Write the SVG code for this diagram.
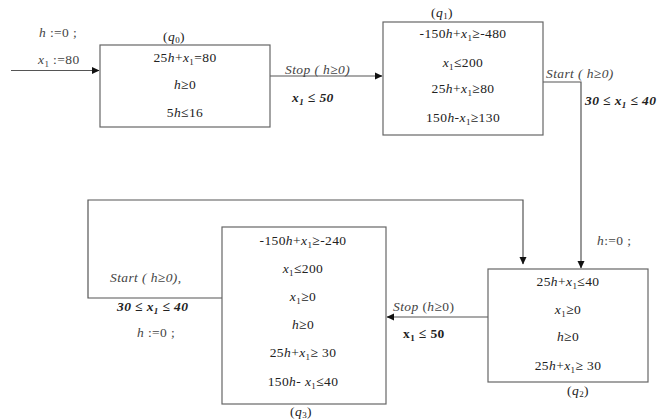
<svg xmlns="http://www.w3.org/2000/svg" width="672" height="420" viewBox="0 0 672 420" font-family="Liberation Serif, Times New Roman, DejaVu Serif, serif">
<defs>
<marker id="ah" markerWidth="8" markerHeight="8" refX="7" refY="4" orient="auto" markerUnits="userSpaceOnUse">
<path d="M0,0.5 L7.5,4 L0,7.5 Z" fill="#111"/>
</marker>
<style>
text{font-family:'Liberation Serif','Times New Roman','DejaVu Serif',serif;font-size:13.5px;fill:#222;letter-spacing:0.4px}
.c{text-anchor:middle}
.i{font-style:italic}
.lbl{fill:#444}
.b{font-weight:bold}
.s{font-size:9px}
.box{fill:#fff;stroke:#666;stroke-width:1.2}
.ln{fill:none;stroke:#555;stroke-width:1.2}
</style>
</defs>
<rect width="672" height="420" fill="#fff"/>

<g id="connectors">
<path class="ln" d="M11,70.5 H99" marker-end="url(#ah)"/>
<path class="ln" d="M270,76 H382" marker-end="url(#ah)"/>
<path class="ln" d="M543,82 H581 V268" marker-end="url(#ah)"/>
<path class="ln" d="M488,317 H387" marker-end="url(#ah)"/>
<path class="ln" d="M222,298 H88 V200 H523 V264" marker-end="url(#ah)"/>
<text class="lbl" x="39" y="37"><tspan class="i">h</tspan> :=0 ;</text>
<text class="lbl" x="38" y="64"><tspan class="i">x</tspan><tspan class="s" dy="3">1</tspan><tspan dy="-3"> :=80</tspan></text>
<text class="lbl i" x="285" y="74">Stop ( h≥0)</text>
<text class="b i" x="292" y="102">x<tspan class="s" dy="3">1</tspan><tspan dy="-3"> ≤ 50</tspan></text>
<text class="lbl i" x="546" y="78">Start ( h≥0)</text>
<text class="b i" x="585" y="105">30 ≤ x<tspan class="s" dy="3">1</tspan><tspan dy="-3"> ≤ 40</tspan></text>
<text class="lbl" x="597" y="245"><tspan class="i">h</tspan>:=0 ;</text>
<text class="lbl" x="393" y="311"><tspan class="i">Stop</tspan> (<tspan class="i">h</tspan>≥0)</text>
<text class="b" x="403" y="338">x<tspan class="s" dy="3">1</tspan><tspan dy="-3"> ≤ 50</tspan></text>
<text class="lbl i" x="110" y="282">Start ( h≥0),</text>
<text class="b i" x="117" y="311">30 ≤ x<tspan class="s" dy="3">1</tspan><tspan dy="-3"> ≤ 40</tspan></text>
<text class="lbl" x="137" y="337"><tspan class="i">h</tspan> :=0 ;</text>
</g>

<g id="q0">
<rect class="box" x="100" y="45" width="170" height="82"/>
<text class="c" x="174" y="41">(<tspan class="i">q</tspan><tspan class="s" dy="2">0</tspan><tspan dy="-2">)</tspan></text>
<text class="c" x="185" y="62">25<tspan class="i">h</tspan>+<tspan class="i">x</tspan><tspan class="s" dy="3">1</tspan><tspan dy="-3">=80</tspan></text>
<text class="c" x="185" y="89"><tspan class="i">h</tspan>≥0</text>
<text class="c" x="185" y="117">5<tspan class="i">h</tspan>≤16</text>
</g>

<g id="q1">
<rect class="box" x="383" y="22" width="160" height="113"/>
<text class="c" x="442" y="17">(<tspan class="i">q</tspan><tspan class="s" dy="2">1</tspan><tspan dy="-2">)</tspan></text>
<text class="c" x="463" y="38">-150<tspan class="i">h</tspan>+<tspan class="i">x</tspan><tspan class="s" dy="3">1</tspan><tspan dy="-3">≥-480</tspan></text>
<text class="c" x="463" y="67"><tspan class="i">x</tspan><tspan class="s" dy="3">1</tspan><tspan dy="-3">≤200</tspan></text>
<text class="c" x="463" y="93">25<tspan class="i">h</tspan>+<tspan class="i">x</tspan><tspan class="s" dy="3">1</tspan><tspan dy="-3">≥80</tspan></text>
<text class="c" x="463" y="122">150<tspan class="i">h</tspan>-<tspan class="i">x</tspan><tspan class="s" dy="3">1</tspan><tspan dy="-3">≥130</tspan></text>
</g>

<g id="q2">
<rect class="box" x="488" y="269" width="160" height="113"/>
<text class="c" x="568" y="286">25<tspan class="i">h</tspan>+<tspan class="i">x</tspan><tspan class="s" dy="3">1</tspan><tspan dy="-3">≤40</tspan></text>
<text class="c" x="568" y="314"><tspan class="i">x</tspan><tspan class="s" dy="3">1</tspan><tspan dy="-3">≥0</tspan></text>
<text class="c" x="568" y="341"><tspan class="i">h</tspan>≥0</text>
<text class="c" x="568" y="370">25<tspan class="i">h</tspan>+<tspan class="i">x</tspan><tspan class="s" dy="3">1</tspan><tspan dy="-3">≥ 30</tspan></text>
<text class="c" x="578" y="395">(<tspan class="i">q</tspan><tspan class="s" dy="2">2</tspan><tspan dy="-2">)</tspan></text>
</g>

<g id="q3">
<rect class="box" x="222" y="227" width="164" height="177"/>
<text class="c" x="303" y="245">-150<tspan class="i">h</tspan>+<tspan class="i">x</tspan><tspan class="s" dy="3">1</tspan><tspan dy="-3">≥-240</tspan></text>
<text class="c" x="303" y="273"><tspan class="i">x</tspan><tspan class="s" dy="3">1</tspan><tspan dy="-3">≤200</tspan></text>
<text class="c" x="303" y="301"><tspan class="i">x</tspan><tspan class="s" dy="3">1</tspan><tspan dy="-3">≥0</tspan></text>
<text class="c" x="303" y="329"><tspan class="i">h</tspan>≥0</text>
<text class="c" x="303" y="357">25<tspan class="i">h</tspan>+<tspan class="i">x</tspan><tspan class="s" dy="3">1</tspan><tspan dy="-3">≥ 30</tspan></text>
<text class="c" x="303" y="386">150<tspan class="i">h</tspan>- <tspan class="i">x</tspan><tspan class="s" dy="3">1</tspan><tspan dy="-3">≤40</tspan></text>
<text class="c" x="301" y="416">(<tspan class="i">q</tspan><tspan class="s" dy="2">3</tspan><tspan dy="-2">)</tspan></text>
</g>
</svg>
